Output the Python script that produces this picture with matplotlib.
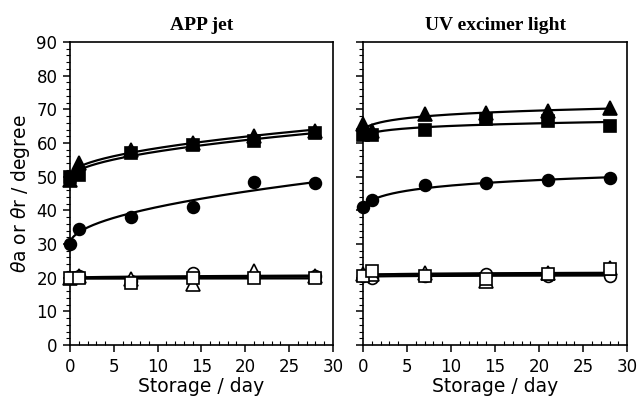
import numpy as np
import matplotlib
matplotlib.use("Agg")
import matplotlib.pyplot as plt
from matplotlib.ticker import MultipleLocator

days = [0, 1, 7, 14, 21, 28]

# APP jet
app_tri = [49, 54, 58, 60, 62, 63.5]
app_sq = [50, 50.5, 57, 59.5, 60.5, 63]
app_circ = [30, 34.5, 38, 41, 48.5, 48]
app_open_circ = [20, 20.5, 19, 21.5, 20.5, 20.5]
app_open_tri = [20, 20.5, 19.5, 18, 22, 20.5]
app_open_sq = [20, 20, 18.5, 20, 20, 20]

# UV excimer light
uv_tri = [65.5, 63.5, 68.5, 69, 69.5, 70.5]
uv_sq = [62.5, 62.5, 64, 67, 66.5, 65]
uv_circ = [41, 43, 47.5, 48, 49, 49.5]
uv_open_circ = [20.5, 20, 20.5, 21, 20.5, 20.5]
uv_open_tri = [21, 21, 21.5, 19, 21.5, 23]
uv_open_sq = [20.5, 22, 20.5, 19.5, 21, 22.5]

titles = ["APP jet", "UV excimer light"]
panels = [
    [(app_tri, "^", True), (app_sq, "s", True), (app_circ, "o", True),
     (app_open_circ, "o", False), (app_open_tri, "^", False), (app_open_sq, "s", False)],
    [(uv_tri, "^", True), (uv_sq, "s", True), (uv_circ, "o", True),
     (uv_open_circ, "o", False), (uv_open_tri, "^", False), (uv_open_sq, "s", False)],
]
# shape of the trend line used in each panel
fit_kind = ["sqrt", "log"]


def trend(x, y, kind):
    # least squares trend line through the points: y = a + b*g(x)
    g = np.sqrt if kind == "sqrt" else np.log1p
    x = np.asarray(x, float)
    b, a = np.polyfit(g(x), np.asarray(y, float), 1)
    xs = np.linspace(0, max(x), 200)
    return xs, a + b * g(xs)


fig = plt.figure(figsize=(6.38, 4.04), dpi=100)
axes = [fig.add_axes([0.1097, 0.146, 0.412, 0.750]),
        fig.add_axes([0.569, 0.146, 0.414, 0.750])]

sizes = {"^": 9.5, "s": 8, "o": 8.5}

for i, ax in enumerate(axes):
    for vals, mk, filled in panels[i]:
        xs, ys = trend(days, vals, fit_kind[i])
        ax.plot(xs, ys, color="black", lw=1.6, zorder=2, clip_on=False)
    for vals, mk, filled in panels[i]:
        ax.plot(days, vals, linestyle="none", marker=mk, ms=sizes[mk],
                mfc="black" if filled else "white", mec="black",
                mew=1.2, zorder=4 if filled else 3, clip_on=False)

    ax.set_xlim(0, 30)
    ax.set_ylim(0, 90)
    ax.xaxis.set_major_locator(MultipleLocator(5))
    ax.xaxis.set_minor_locator(MultipleLocator(1))
    ax.yaxis.set_major_locator(MultipleLocator(10))
    ax.yaxis.set_minor_locator(MultipleLocator(2))
    ax.tick_params(axis="both", which="major", direction="out", length=5,
                   width=1.1, labelsize=12, pad=4)
    ax.tick_params(axis="x", which="minor", direction="in", length=3, width=0.8)
    ax.tick_params(axis="y", which="minor", direction="out", length=3, width=0.8)
    for sp in ax.spines.values():
        sp.set_linewidth(1.2)
    ax.set_xlabel("Storage / day", fontsize=13.5, labelpad=1)
    ax.set_title(titles[i], fontsize=14, fontweight="bold",
                 family="Liberation Serif", pad=9)
    if i == 1:
        ax.tick_params(axis="y", labelleft=False)

axes[0].set_ylabel(r"$\theta$a or $\theta$r / degree", fontsize=13.5, labelpad=3)

fig.savefig("out.png", dpi=100)
